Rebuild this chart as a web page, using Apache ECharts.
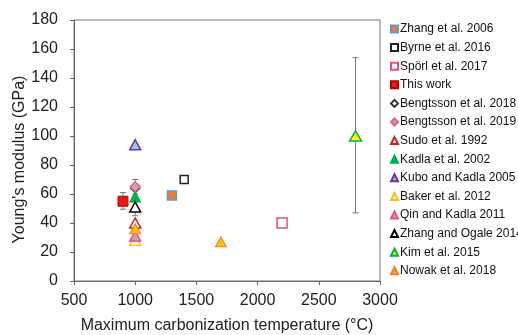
<!DOCTYPE html>
<html><head><meta charset="utf-8">
<script src="https://cdn.jsdelivr.net/npm/echarts@6/dist/echarts.min.js"></script>
<style>html,body{margin:0;padding:0;background:#fff}#c{width:518px;height:335px}</style>
</head><body><div id="c"></div>
<script>
// Data: [temperature °C, Young's modulus GPa]
const zhang2006 = [[1300, 59]];
const byrne2016 = [[1400, 70]];
const sporl2017 = [[2200, 40]];
const thisWork = [[900, 55]];
const bengtsson2018 = [[1000, 64]];
const bengtsson2019 = [[1000, 65]];
const sudo1992 = [[1000, 40]];
const kadla2002 = [[1000, 58]];
const kubo2005 = [[1000, 94]];
const baker2012 = [[1000, 28]];
const qin2011 = [[1000, 31]];
const zhangOgale2014 = [[1000, 51]];
const kim2015 = [[2800, 100]];
const nowak2018 = [[1000, 36], [1700, 27]];
// Error bars: [x, low, high]
const errorBars = [[900, 49.5, 61], [1000, 60, 70], [1000, 45, 57], [1400, 69, 71], [2800, 47, 154]];
const xTicks = [500, 1000, 1500, 2000, 2500, 3000];
const yTicks = [0, 20, 40, 60, 80, 100, 120, 140, 160, 180];

const F = 'Liberation Sans, Arial, sans-serif';
function sc(name, data, symbol, size, fill, border, bw) {
  return { name, type: 'scatter', data, symbol, symbolSize: size, z: 3,
    itemStyle: { color: fill, borderColor: border, borderWidth: bw === undefined ? 1.5 : bw, opacity: 1 } };
}
const tri = 'triangle';
const series = [
  { name: 'err', type: 'custom', data: errorBars, z: 2, silent: true,
    renderItem: function (params, api) {
      const x = api.value(0), lo = api.value(1), hi = api.value(2);
      const p1 = api.coord([x, lo]), p2 = api.coord([x, hi]);
      const s = { stroke: '#777', lineWidth: 1 };
      return { type: 'group', children: [
        { type: 'line', shape: { x1: p1[0], y1: p1[1], x2: p2[0], y2: p2[1] }, style: s },
        { type: 'line', shape: { x1: p1[0] - 3, y1: p1[1], x2: p1[0] + 3, y2: p1[1] }, style: s },
        { type: 'line', shape: { x1: p2[0] - 3, y1: p2[1], x2: p2[0] + 3, y2: p2[1] }, style: s }
      ]};
    } },
  sc('Zhang et al. 2006', zhang2006, 'rect', 9, '#ED7D31', '#5B9BD5', 1.5),
  sc('Byrne et al. 2016', byrne2016, 'rect', 8, '#ffffff', '#222222', 1.5),
  sc('Spörl et al. 2017', sporl2017, 'rect', 10, '#ffffff', '#E8507A', 1.5),
  sc('This work', thisWork, 'rect', 10, '#E31A1C', '#C00000', 1),
  sc('Bengtsson et al. 2018', bengtsson2018, 'diamond', 9, '#ffffff', '#333333', 1.5),
  sc('Bengtsson et al. 2019', bengtsson2019, 'diamond', 10, '#C9A6AC', '#E8608C', 1.5),
  sc('Sudo et al. 1992', sudo1992, tri, [11, 10], '#ffffff', '#D02020', 1.5),
  sc('Kadla et al. 2002', kadla2002, tri, [11, 10], '#00B050', '#00B050', 1),
  sc('Kubo and Kadla 2005', kubo2005, tri, [11, 10], '#9DC3E6', '#7030A0', 1.5),
  sc('Baker et al. 2012', baker2012, tri, [11, 10], '#ffffff', '#FFC000', 1.5),
  sc('Qin and Kadla 2011', qin2011, tri, [11, 10], '#C4A4A8', '#E8508C', 1.5),
  sc('Zhang and Ogale 2014', zhangOgale2014, tri, [11, 10], '#ffffff', '#000000', 1.5),
  sc('Kim et al. 2015', kim2015, tri, [12, 10], '#FFFF00', '#00B050', 1.5),
  sc('Nowak et al. 2018', nowak2018, tri, [11, 10], '#FFC000', '#ED7D31', 1)
];
const chart = echarts.init(document.getElementById('c'), null, { renderer: 'canvas' });
chart.setOption({
  animation: false,
  textStyle: { fontFamily: F },
  grid: { left: 74, right: 138, top: 20, bottom: 54, containLabel: false, outerBoundsMode: 'none', show: true, borderColor: '#777', borderWidth: 1, backgroundColor: 'transparent' },
  legend: {
    orient: 'vertical', left: 390, top: 23, itemWidth: 7, itemHeight: 7, itemGap: 6.6,
    data: series.slice(1).map(s => s.name),
    textStyle: { fontFamily: F, fontSize: 12, color: '#111', padding: [0, 0, 0, -3], lineHeight: 12 },
    padding: 0
  },
  xAxis: {
    type: 'value', min: 500, max: 3000, interval: 500,
    name: 'Maximum carbonization temperature (°C)', nameLocation: 'middle', nameGap: 37, nameMoveOverlap: false,
    nameTextStyle: { fontFamily: F, fontSize: 16, color: '#222' },
    axisLine: { show: true, lineStyle: { color: '#666', width: 1 } },
    axisTick: { show: true, inside: false, length: 4, lineStyle: { color: '#666' } },
    axisLabel: { fontFamily: F, fontSize: 16, color: '#222', margin: 12, formatter: v => xTicks.includes(v) ? String(v) : '' },
    splitLine: { show: false }
  },
  yAxis: {
    type: 'value', min: 0, max: 180, interval: 20,
    name: "Young's modulus (GPa)", nameLocation: 'middle', nameGap: 46, nameMoveOverlap: false,
    nameTextStyle: { fontFamily: F, fontSize: 16, color: '#222', padding: [0, 18, 0, 0] },
    axisLine: { show: true, lineStyle: { color: '#666', width: 1 } },
    axisTick: { show: true, inside: false, length: 4, lineStyle: { color: '#666' } },
    axisLabel: { fontFamily: F, fontSize: 16, color: '#222', margin: 16, formatter: v => yTicks.includes(v) ? String(v) : '' },
    splitLine: { show: false }
  },
  series: series
});
</script></body></html>
